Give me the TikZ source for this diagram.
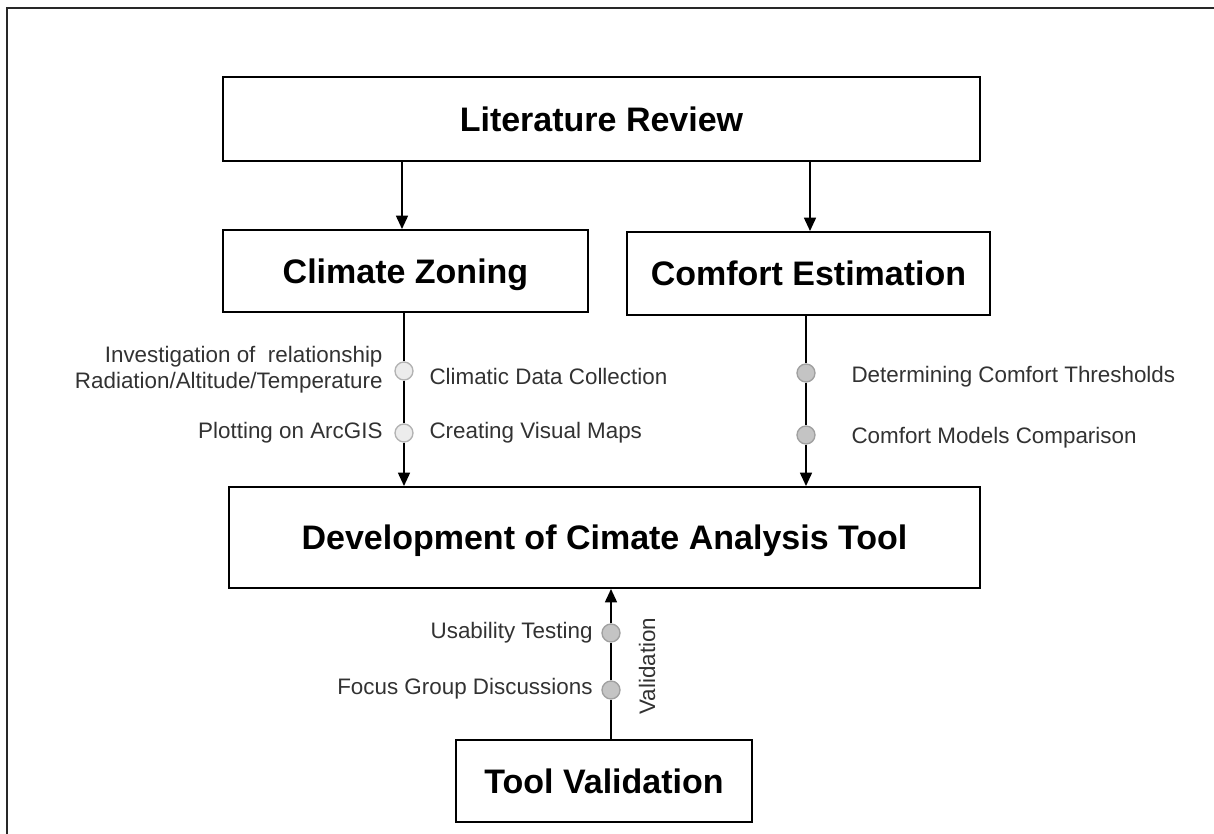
\documentclass[tikz,border=0pt]{standalone}
\usepackage{fontspec}
\setmainfont{Liberation Sans}
\usetikzlibrary{arrows.meta}

\definecolor{dotfillw}{RGB}{236,236,236}
\definecolor{dotdraww}{RGB}{178,178,178}
\definecolor{dotfillg}{RGB}{196,196,196}
\definecolor{dotdrawg}{RGB}{160,160,160}
\definecolor{lbltext}{RGB}{50,50,50}

\tikzset{every picture/.style={line width=0.75pt}}
\tikzset{
  box/.style={draw, line width=1.5pt, inner sep=0pt, text height=18.3pt, text depth=0pt, font=\fontsize{25.5}{30}\selectfont\bfseries},
  dotw/.style={circle, draw=dotdraww, fill=dotfillw, line width=1pt, minimum size=13.5pt, inner sep=0pt},
  dotg/.style={dotw, draw=dotdrawg, fill=dotfillg},
  lbl/.style={font=\fontsize{16.8}{19.5}\selectfont, text=lbltext, inner sep=0pt},
  arr/.style={line width=1.2pt, -{Triangle[length=10pt,width=9pt]}}
}

\begin{document}
\begin{tikzpicture}[x=0.75pt,y=0.75pt,yscale=-1,xscale=1]
	\useasboundingbox (0,0) rectangle (1214,834);

	%Frame
	\draw [line width=1.5pt, color={rgb,255:red,40;green,40;blue,40}] (1214,8) -- (7,8) -- (7,834) ;

	% Boxes
	\node [box, minimum width=567.75pt, minimum height=63pt] (lit) at (601.5,119) {Literature Review};
	\node [box, minimum width=273.75pt, minimum height=61.5pt] (cz) at (405.5,271) {Climate Zoning};
	\node [box, minimum width=272.25pt, minimum height=62.25pt] (ce) at (808.5,273.5) {Comfort Estimation};
	\node [box, minimum width=563.25pt, minimum height=75.75pt] (dev) at (604.5,537.5) {Development of Cimate Analysis Tool};
	\node [box, minimum width=222pt, minimum height=61.5pt] (tv) at (604,781) {Tool Validation};

	% Circles
	\node [dotw] (cz1) at (404,371) {};
	\node [dotw] (cz2) at (404,433) {};
	\node [dotg] (ce1) at (806,373) {};
	\node [dotg] (ce2) at (806,435) {};
	\node [dotg] (tv1) at (611,633) {};
	\node [dotg] (tv2) at (611,690) {};

	\coordinate (a1) at (402,0);
	\coordinate (a2) at (810,0);

	% Connectors
	\draw [arr] (lit.south -| a1) -- (cz.north -| a1) ;
	\draw [arr] (lit.south -| a2) -- (ce.north -| a2) ;
	\draw [arr] (cz.south -| cz1) -- (cz1) -- (cz2) -- (dev.north -| cz2) ;
	\draw [arr] (ce.south -| ce1) -- (ce1) -- (ce2) -- (dev.north -| ce2) ;
	\draw [arr] (tv.north -| tv2) -- (tv2) -- (tv1) -- (dev.south -| tv1) ;

	% Text Node
	\node [lbl, anchor=east, align=right] (inv) at (383,370) {Investigation of\ \ relationship\\Radiation/Altitude/Temperature};
	% Text Node
	\node [lbl, anchor=west] (cdc) at (429,376) {Climatic Data Collection};
	% Text Node
	\node [lbl, anchor=east] (plt) at (383,433) {Plotting on ArcGIS};
	% Text Node
	\node [lbl, anchor=west] (cvm) at (429,433) {Creating Visual Maps};
	% Text Node
	\node [lbl, anchor=west] (dct) at (851,377) {Determining Comfort Thresholds};
	% Text Node
	\node [lbl, anchor=west] (cmc) at (851,438) {Comfort Models Comparison};
	% Text Node
	\node [lbl, anchor=east] (ust) at (593,633) {Usability Testing};
	% Text Node
	\node [lbl, anchor=east] (fgd) at (593,689) {Focus Group Discussions};
	% Text Node
	\node [lbl, rotate=90] (val) at (647,666) {Validation};

\end{tikzpicture}
\end{document}
